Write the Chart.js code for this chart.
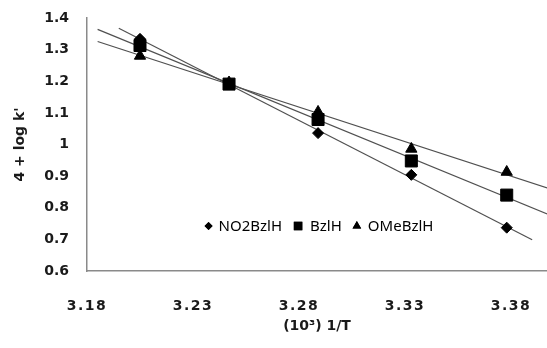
<!DOCTYPE html>
<html>
<head>
<meta charset="utf-8">
<script src="https://cdn.jsdelivr.net/npm/chart.js@4.4.0/dist/chart.umd.min.js"></script>
<style>
  body { margin: 0; background: #fff; }
</style>
</head>
<body>
<canvas id="myChart" width="547" height="348"></canvas>
<script>
const invT = [3.205, 3.247, 3.289, 3.333, 3.378];
const no2Values = [1.334, 1.191, 1.036, 0.904, 0.737];
const bzlValues = [1.313, 1.191, 1.079, 0.948, 0.840];
const omeValues = [1.280, 1.196, 1.103, 0.986, 0.913];
const seriesNames = ['NO2BzlH', 'BzlH', 'OMeBzlH'];
const xTicks = [3.18, 3.23, 3.28, 3.33, 3.38];
const yTicks = [0.6, 0.7, 0.8, 0.9, 1, 1.1, 1.2, 1.3, 1.4];
// x range of each trendline (forecast backward / forward)
const trendFrom = [3.195, 3.185, 3.185];
const trendTo = [3.390, 3.398, 3.398];

function pts(ys) {
  return invT.map((x, i) => ({ x: x, y: ys[i] }));
}

// least squares line through a series, from x0 to x1
function trend(ys, x0, x1) {
  const n = invT.length;
  let sx = 0, sy = 0, sxy = 0, sxx = 0;
  for (let i = 0; i < n; i++) {
    sx += invT[i]; sy += ys[i]; sxy += invT[i] * ys[i]; sxx += invT[i] * invT[i];
  }
  const b = (n * sxy - sx * sy) / (n * sxx - sx * sx);
  const a = (sy - b * sx) / n;
  return [{ x: x0, y: a + b * x0 }, { x: x1, y: a + b * x1 }];
}

const allValues = [no2Values, bzlValues, omeValues];
const styles = ['rectRot', 'rect', 'triangle'];
const radii = [5.5, 8.5, 6.5];
const legendRadii = [4, 6, 5];

const datasets = [];
allValues.forEach((v, i) => {
  datasets.push({
    label: seriesNames[i],
    data: pts(v),
    pointStyle: styles[i],
    pointRadius: radii[i],
    backgroundColor: '#000',
    borderColor: '#000',
    borderWidth: 1,
    showLine: false,
    order: i
  });
});
allValues.forEach((v, i) => {
  datasets.push({
    label: 'trend' + i,
    data: trend(v, trendFrom[i], trendTo[i]),
    showLine: true,
    pointRadius: 0,
    borderColor: '#505050',
    borderWidth: 1.2,
    order: 10 + i
  });
});

const insideLegend = {
  id: 'insideLegend',
  beforeDraw(chart) {
    // wider letter spacing on the x tick labels
    const sx = chart.scales.x;
    if (!sx._spaced) {
      const orig = sx.drawLabels;
      sx.drawLabels = function (area) {
        const c = this.ctx;
        c.save();
        c.letterSpacing = '1.5px';
        orig.call(this, area);
        c.restore();
      };
      sx._spaced = true;
    }
  },
  afterDraw(chart) {
    const { ctx, chartArea: { left, right } } = chart;
    ctx.save();
    ctx.font = '15px "Noto Sans"';
    ctx.textBaseline = 'middle';
    ctx.fillStyle = '#000';
    const gap = 6, itemGap = 10;
    const widths = seriesNames.map(n => ctx.measureText(n).width);
    let total = 0;
    widths.forEach((w, i) => { total += legendRadii[i] * 2 + gap + w; });
    total += itemGap * (seriesNames.length - 1);
    let x = (left + right) / 2 - total / 2 + 2;
    const y = 226;
    seriesNames.forEach((n, i) => {
      const r = legendRadii[i];
      Chart.helpers.drawPoint(ctx, { pointStyle: styles[i], radius: r, rotation: 0, borderWidth: 0 }, x + r, y);
      ctx.fillStyle = '#000';
      ctx.fill();
      ctx.fillText(n, x + 2 * r + gap, y + 1);
      x += 2 * r + gap + widths[i] + itemGap;
    });
    ctx.restore();
  }
};

new Chart(document.getElementById('myChart'), {
  type: 'scatter',
  data: { datasets: datasets },
  options: {
    responsive: false,
    animation: false,
    devicePixelRatio: 1,
    layout: { autoPadding: false, padding: { top: 18, right: 0, left: 0, bottom: 0 } },
    scales: {
      x: {
        type: 'linear',
        min: 3.18,
        max: 3.397,
        grid: { display: false, drawTicks: false },
        border: { display: true, color: '#8a8a8a', width: 1.5 },
        ticks: {
          padding: 27,
          color: '#1a1a1a',
          font: { family: 'DejaVu Sans', weight: 'bold', size: 14 },
          callback: v => v.toFixed(2)
        },
        afterBuildTicks: s => { s.ticks = xTicks.map(v => ({ value: v })); },
        title: {
          display: true,
          text: '(10³) 1/T',
          color: '#1a1a1a',
          font: { family: 'DejaVu Sans', weight: 'bold', size: 14 },
          padding: { top: 0, bottom: 13 }
        },
        afterFit: s => {
          s.height = 77;
          s.paddingLeft = 0; s.paddingRight = 0;
        }
      },
      y: {
        min: 0.6,
        max: 1.4,
        grid: { display: false, drawTicks: false },
        border: { display: true, color: '#8a8a8a', width: 1.5 },
        ticks: {
          padding: 18,
          color: '#1a1a1a',
          font: { family: 'DejaVu Sans', weight: 'bold', size: 14 },
          callback: v => String(+v.toFixed(1))
        },
        afterBuildTicks: s => { s.ticks = yTicks.map(v => ({ value: v })); },
        title: {
          display: true,
          text: "4 + log k'",
          color: '#1a1a1a',
          font: { family: 'DejaVu Sans', weight: 'bold', size: 14 },
          padding: { top: 12, bottom: 0 }
        },
        afterFit: s => {
          s.width = 87;
          s.paddingTop = 0; s.paddingBottom = 0;
        }
      }
    },
    plugins: {
      legend: { display: false },
      tooltip: { enabled: false }
    }
  },
  plugins: [insideLegend]
});
</script>
</body>
</html>
